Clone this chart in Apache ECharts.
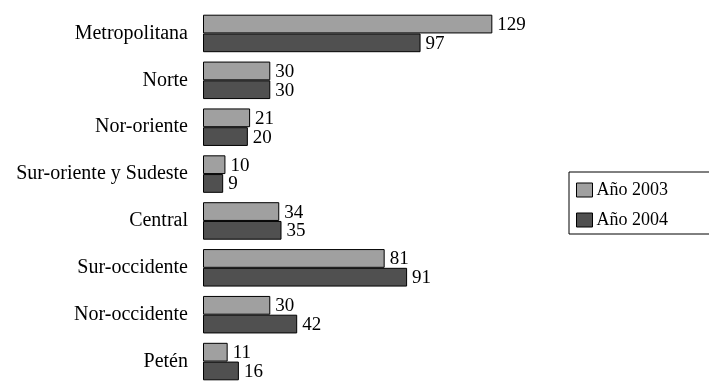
<!DOCTYPE html>
<html><head><meta charset="utf-8">
<script src="https://cdn.jsdelivr.net/npm/echarts@6/dist/echarts.min.js"></script>
<style>html,body{margin:0;padding:0;background:#fff}#c{width:709px;height:385px}</style>
</head><body><div id="c"></div>
<script>
var categories = ["Metropolitana","Norte","Nor-oriente","Sur-oriente y Sudeste","Central","Sur-occidente","Nor-occidente","Petén"];
var values2003 = [129,30,21,10,34,81,30,11];
var values2004 = [97,30,20,9,35,91,42,16];
var seriesNames = ["Año 2003","Año 2004"];
var font = "Liberation Serif";
var chart = echarts.init(document.getElementById('c'));
function lbl(){return {show:true,position:'right',distance:5,color:'#000',fontFamily:font,fontSize:19,offset:[0,1]};}
chart.setOption({
  animation:false,
  textStyle:{fontFamily:font},
  grid:{left:203,top:10,width:314,height:380},
  legend:{orient:'vertical',left:569,top:172,itemWidth:16,itemHeight:14,itemGap:12,
    padding:[9,60,5,7],borderColor:'#000',borderWidth:1,
    textStyle:{fontFamily:font,fontSize:18,color:'#000',padding:[0,0,0,-1]},
    itemStyle:{borderColor:'#000',borderWidth:1},
    data:seriesNames.map(function(n){return {name:n,icon:'rect'};})},
  xAxis:{type:'value',min:0,max:140,show:false},
  yAxis:{type:'category',data:categories,inverse:true,
    axisLine:{show:false},axisTick:{show:false},
    axisLabel:{fontFamily:font,fontSize:20,color:'#000',margin:15}},
  series:[
    {name:seriesNames[0],type:'bar',data:values2003,barGap:'0%',barCategoryGap:'20%',
     itemStyle:{color:'#a0a0a0',borderColor:'#000',borderWidth:1},label:lbl()},
    {name:seriesNames[1],type:'bar',data:values2004,barGap:'0%',barCategoryGap:'20%',
     itemStyle:{color:'#505050',borderColor:'#000',borderWidth:1},label:lbl()}
  ]
});
</script></body></html>
